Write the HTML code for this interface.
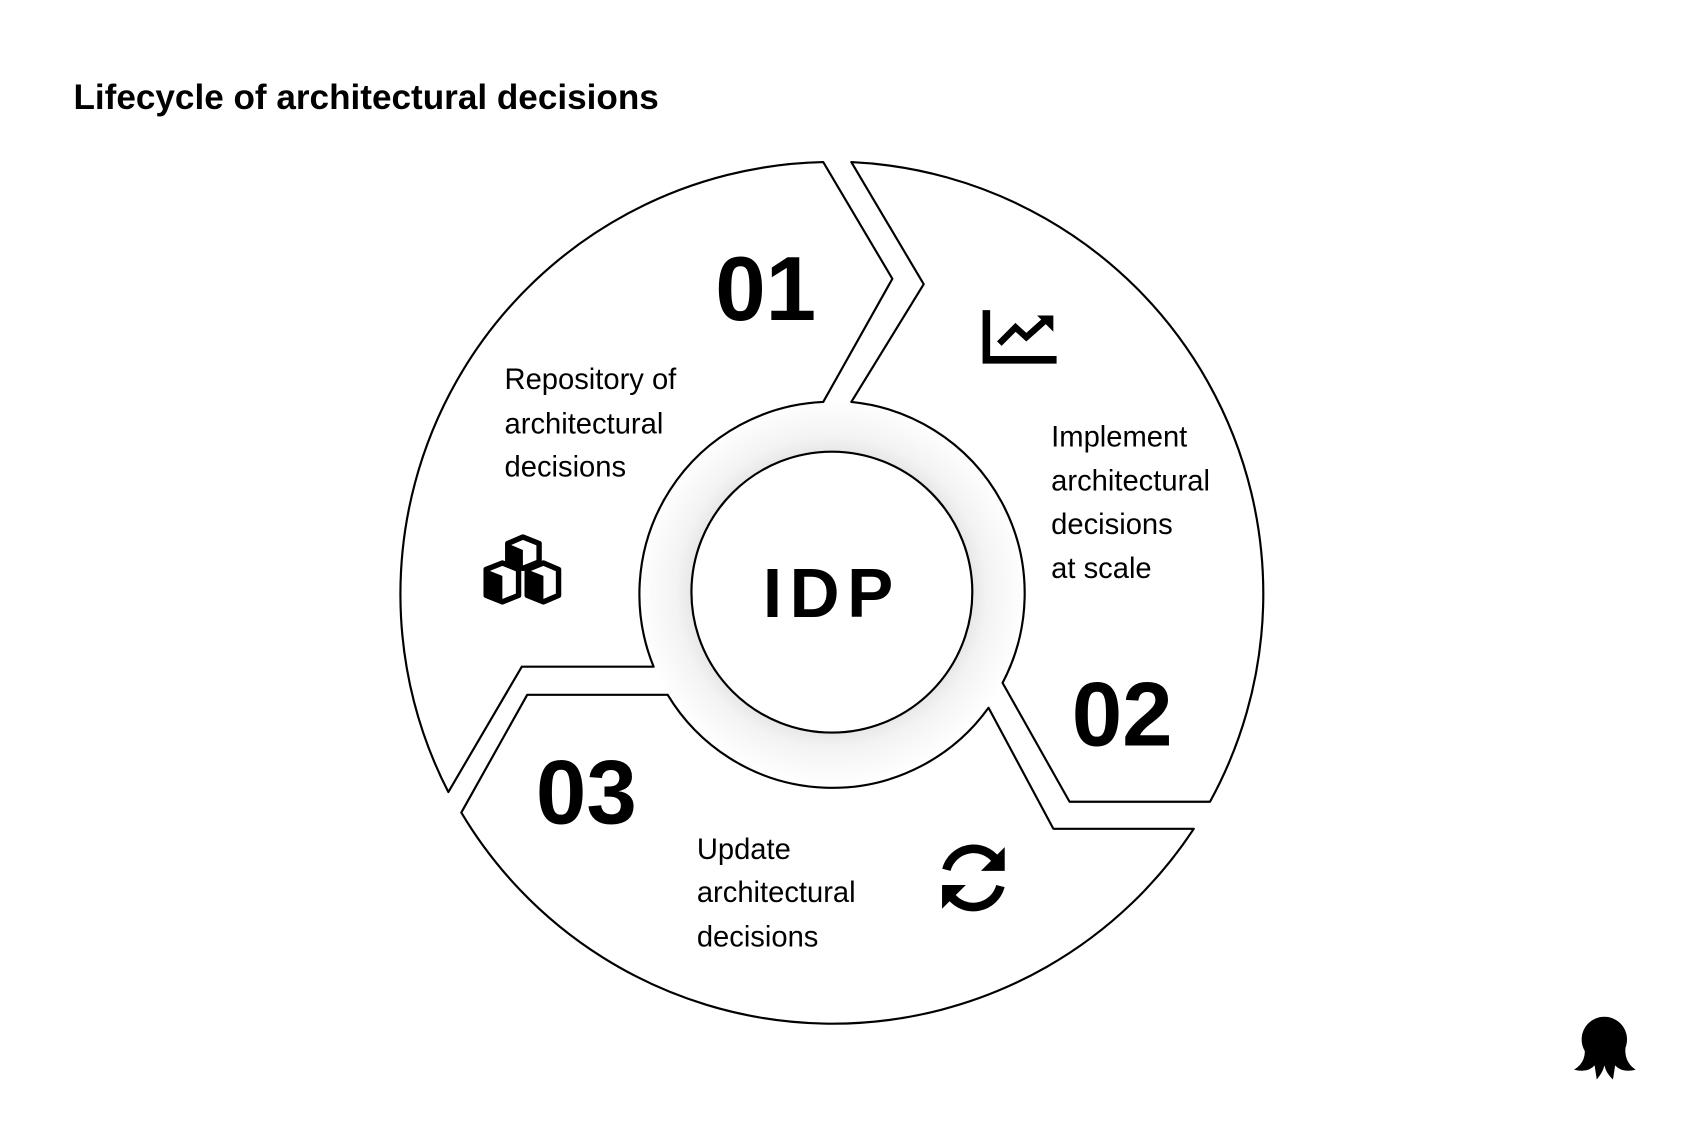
<!DOCTYPE html>
<html><head><meta charset="utf-8"><style>
html,body{margin:0;padding:0;background:#fff;}
svg{display:block}
text{font-family:"Liberation Sans",Arial,sans-serif;fill:#000}
</style></head><body>
<svg width="1694" height="1127" viewBox="0 0 1568 1043" preserveAspectRatio="none" xmlns="http://www.w3.org/2000/svg">
<defs>
<radialGradient id="g" cx="770" cy="548" r="180" gradientUnits="userSpaceOnUse">
<stop offset="0.70" stop-color="#e4e4e4"/>
<stop offset="0.80" stop-color="#f3f3f3"/>
<stop offset="1" stop-color="#ffffff"/>
</radialGradient>
</defs>
<text x="68" y="101" font-size="32.5" font-weight="bold">Lifecycle of architectural decisions</text>
<circle cx="770" cy="548" r="180" fill="url(#g)"/>
<g fill="#fff" stroke="#000" stroke-width="2" stroke-linejoin="round">
<path d="M415,733 A400,400 0 0 1 762,150 L826,258 L762,372 A178,178 0 0 0 605,617 L483,617 Z"/>
<path d="M788,150 A400,400 0 0 1 1120,742 L990,742 L928,632 A178,178 0 0 0 788,372 L855,263 Z"/>
<path d="M427,752 L488,643 L618,643 A178,178 0 0 0 915,655 L975,767 L1105,767 A400,400 0 0 1 427,752 Z"/>
<circle cx="770" cy="548" r="130"/>
</g>
<text x="770" y="571" font-size="64" font-weight="bold" text-anchor="middle" letter-spacing="7">IDP</text>
<text x="662" y="296" font-size="84" font-weight="bold">01</text>
<text x="992" y="690" font-size="84" font-weight="bold">02</text>
<text x="496" y="762" font-size="84" font-weight="bold">03</text>
<g font-size="27">
<text x="467" y="360">Repository of</text>
<text x="467" y="401">architectural</text>
<text x="467" y="441">decisions</text>
<text x="973" y="413">Implement</text>
<text x="973" y="454">architectural</text>
<text x="973" y="494">decisions</text>
<text x="973" y="535">at scale</text>
<text x="645" y="795">Update</text>
<text x="645" y="835">architectural</text>
<text x="645" y="876">decisions</text>
</g>
<g fill="none" stroke="#000" stroke-width="7">
<path d="M913,287 V333 H978"/>
<path d="M925,318 L940,303 L950,312 L968,296" stroke-width="6"/>
</g>
<path d="M960,292 L975,292 L975,307 Z" fill="#000"/>
<g stroke="#000" stroke-width="5" fill="#fff" stroke-linejoin="round">
<path d="M470,503 L484,497 L499,503 L499,520 L484,526 L470,520 Z"/>
<path d="M450,527 L465,521 L480,527 L480,551 L465,557 L450,551 Z"/>
<path d="M488,527 L503,521 L517,527 L517,551 L503,557 L488,551 Z"/>
</g>
<g fill="#000">
<path d="M450,527 L465,533 L465,557 L450,551 Z"/>
<path d="M488,527 L503,533 L503,557 L488,551 Z"/>
<path d="M470,503 L484,509 L484,526 L470,520 Z"/>
</g>
<g fill="none" stroke="#000" stroke-width="8">
<path d="M876,805 A26,26 0 0 1 922,796"/>
<path d="M926,820 A26,26 0 0 1 880,829"/>
</g>
<path d="M930,784 L930,806 L908,806 Z" fill="#000"/>
<path d="M872,841 L872,819 L894,819 Z" fill="#000"/>
<g fill="#000">
<ellipse cx="1485" cy="962" rx="21" ry="21"/>
<path d="M1466,966 Q1470,982 1457,990 Q1470,993 1476,986 L1478,999 Q1484,992 1485,986 Q1487,994 1493,999 L1495,986 Q1501,993 1514,990 Q1502,982 1505,966 Z"/>
</g>
</svg>
</body></html>
